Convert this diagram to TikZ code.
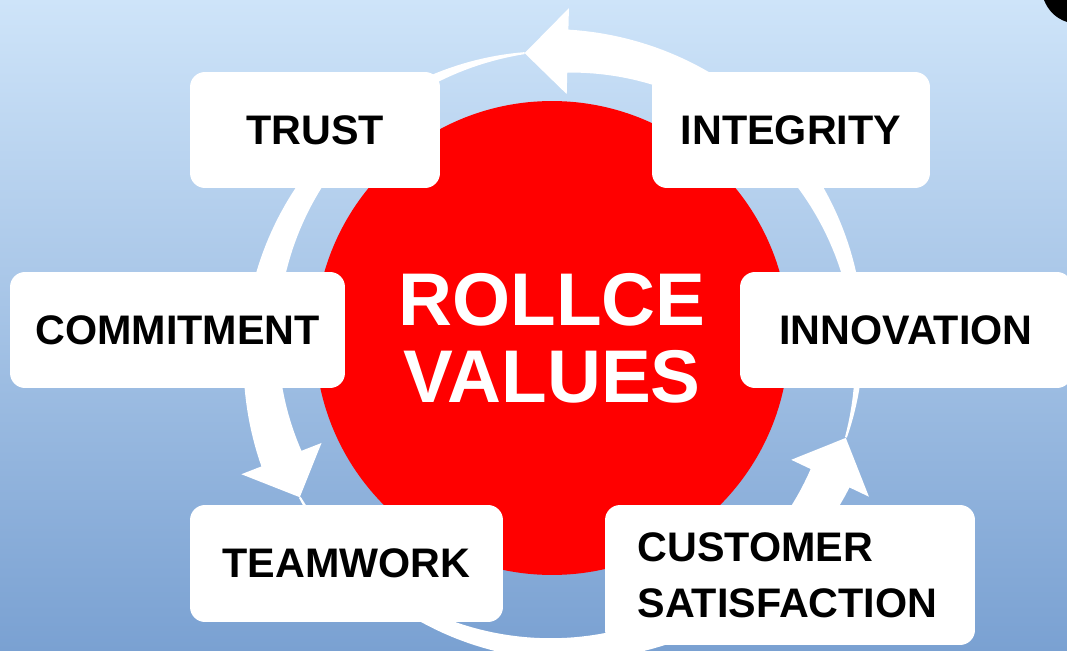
\documentclass[tikz,border=0pt]{standalone}
\usepackage{fontspec}
\setmainfont{Liberation Sans}
\usepackage{xcolor}
\usepackage{tikz}
\usetikzlibrary{calc}

\definecolor{skytop}{RGB}{206,228,249}
\definecolor{skybottom}{RGB}{122,161,210}

\newcommand{\ringR}{299}
% tapered ring arrow: tail angle, head base angle, tip angle
\newcommand{\valuearrow}[3]{%
\fill[white] plot[domain=#1:#2, samples=80] (\x:{\ringR+1+20.5*(\x-(#1))/((#2)-(#1))})
  -- (#2:{\ringR+43}) -- (#3:\ringR) -- (#2:{\ringR-43})
  -- plot[domain=#2:#1, samples=80] (\x:{\ringR-1-20.5*(\x-(#1))/((#2)-(#1))}) -- cycle;}

\begin{document}
\begin{tikzpicture}[
x=0.02cm, y=0.02cm,
value box/.style = {fill=white, rounded corners=0.3cm, minimum height=2.32cm,
  inner sep=0pt, text centered, font=\fontsize{23.5}{32}\selectfont\bfseries},
core circle/.style = {circle, fill=red, minimum size=9.48cm, inner sep=0pt,
  text=white, align=center, font=\fontsize{42.5}{44}\selectfont\bfseries}
]

\useasboundingbox (0,0) rectangle (1067,650);
\shade[top color=skytop, bottom color=skybottom] (0,0) rectangle (1067,650);

% corner of the clip art
\fill[black] (1044,650) .. controls (1048,640) and (1055,632) .. (1067,628) -- (1067,650) -- cycle;

\begin{scope}[shift={(560,300)}]
\valuearrow{-17}{88.5}{96.8}
\valuearrow{96.8}{201.3}{209.5}
\valuearrow{209.5}{334.6}{342.9}
\end{scope}

\node (core) at (552,312) [core circle] {ROLLCE\\VALUES};

\node (trust) at (315,520) [value box, minimum width=5cm] {TRUST};
\node (integrity) at (791,520) [value box, minimum width=5.56cm] {INTEGRITY};

\node (commitment) at (177.5,320) [value box, minimum width=6.7cm] {COMMITMENT};
\node (innovation) at (906,320) [value box, minimum width=6.64cm] {INNOVATION};

\node (teamwork) at (346.5,86.5) [value box, minimum width=6.26cm, minimum height=2.34cm] {TEAMWORK};
\node (customer) at (790,75) [value box, minimum width=7.4cm, minimum height=2.8cm,
  text width=6.1cm, align=left] {CUSTOMER\\SATISFACTION};
\end{tikzpicture}
\end{document}
